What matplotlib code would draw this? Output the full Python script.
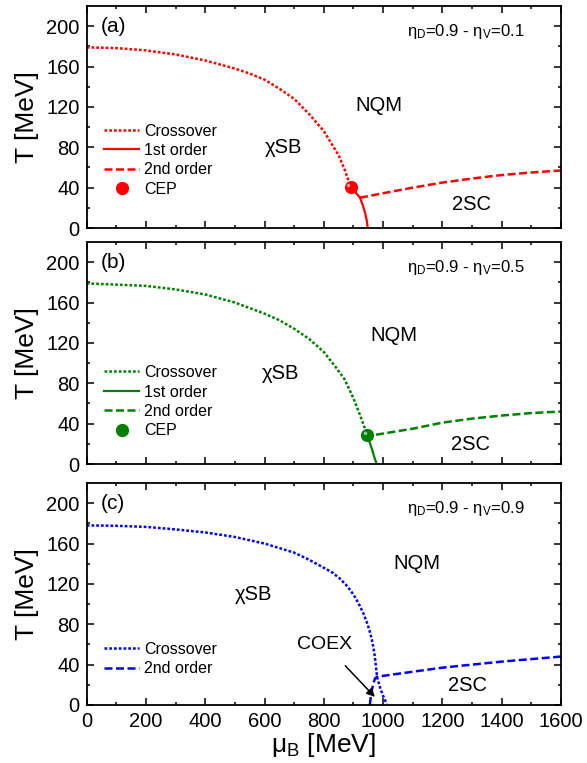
import matplotlib
matplotlib.use('Agg')
import matplotlib.pyplot as plt
from matplotlib import transforms

plt.rcParams['font.family'] = ['Liberation Sans', 'DejaVu Sans']
plt.rcParams['mathtext.fontset'] = 'custom'
plt.rcParams['mathtext.rm'] = 'Liberation Sans'
plt.rcParams['mathtext.it'] = 'Liberation Sans:italic'

# panel (a): eta_D=0.9, eta_V=0.1
a_cross_mu = [0, 100, 200, 300, 400, 500, 550, 600, 650, 700, 750, 800, 850, 870, 890]
a_cross_T = [179, 178.3, 176, 172, 166, 158, 153, 147, 138, 128, 113, 96, 72, 58, 41]
a_first_mu = [890, 905, 922, 932, 939, 945, 948]
a_first_T = [41, 36, 30, 22, 15, 7, 0]
a_second_mu = [922, 1000, 1100, 1200, 1300, 1400, 1500, 1600]
a_second_T = [30, 34.5, 40, 45, 49, 52.5, 55, 57]
a_cep = (890, 41)

# panel (b): eta_D=0.9, eta_V=0.5
b_cross_mu = [0, 200, 300, 400, 500, 600, 650, 700, 750, 800, 840, 870, 900, 920, 935, 946]
b_cross_T = [179, 176.5, 173, 168, 160, 149, 142.5, 134, 124, 111, 96, 84, 65, 50, 38, 29]
b_first_mu = [946, 955, 963, 970, 978]
b_first_T = [29, 21, 14, 7, 0]
b_second_mu = [976, 1100, 1200, 1300, 1400, 1500, 1600]
b_second_T = [29, 35, 41, 45, 48, 50.5, 52]
b_cep = (946, 29)

# panel (c): eta_D=0.9, eta_V=0.9
c_cross_mu = [0, 100, 200, 300, 400, 500, 600, 700, 750, 800, 830, 855, 875, 890, 905, 920,
              933, 945, 953, 961, 967, 972, 975, 978, 980, 990, 1000, 1012]
c_cross_T = [178, 177.6, 176.5, 174, 171, 166.5, 160, 151, 144, 136, 131, 125, 119, 113.5, 107, 99,
             91, 82, 75, 66, 57, 48, 40, 32, 27, 17, 9, 1]
c_second_mu = [955, 960, 966, 972, 979, 1100, 1200, 1282, 1400, 1500, 1600]
c_second_T = [0, 12, 20, 26, 28, 33, 37, 39.5, 43, 45.5, 48]

panels = [
    dict(color='#ff0000', cross=(a_cross_mu, a_cross_T), first=(a_first_mu, a_first_T),
         second=(a_second_mu, a_second_T), cep=a_cep, tag='(a)', ev='0.1',
         nqm=(986, 121), xsb=(665, 80), sc=(1298, 23), leg_y=0.14),
    dict(color='#008000', cross=(b_cross_mu, b_cross_T), first=(b_first_mu, b_first_T),
         second=(b_second_mu, b_second_T), cep=b_cep, tag='(b)', ev='0.5',
         nqm=(1037, 127), xsb=(655, 90), sc=(1295, 19), leg_y=0.115),
    dict(color='#0000ff', cross=(c_cross_mu, c_cross_T), first=None,
         second=(c_second_mu, c_second_T), cep=None, tag='(c)', ev='0.9',
         nqm=(1114, 140), xsb=(561, 110), sc=(1284, 19), leg_y=0.13),
]

fig = plt.figure(figsize=(5.87, 7.63), dpi=100)
H = 763.0
W = 587.0
left, right = 86.7 / W, 561 / W
tops = [6, 242, 483]
h = 222

for i, p in enumerate(panels):
    ax = fig.add_axes([left, 1 - (tops[i] + h) / H, right - left, h / H])
    col = p['color']
    ax.plot(*p['cross'], color=col, lw=1.8, linestyle=(0, (1.1, 0.8)),
            label='Crossover', dash_capstyle='butt')
    if p['first'] is not None:
        ax.plot(*p['first'], color=col, lw=1.6, linestyle='-', label='1st order')
    ax.plot(*p['second'], color=col, lw=1.8, linestyle=(0, (3.2, 1.4)), label='2nd order')
    if p['cep'] is not None:
        ax.plot([p['cep'][0]], [p['cep'][1]], 'o', color=col, ms=8.5, mec=col,
                label='CEP', zorder=5)
        hl = transforms.offset_copy(ax.transData, fig=fig, x=-1.5, y=1.5, units='points')
        ax.plot([p['cep'][0]], [p['cep'][1]], 'o', color='white', alpha=0.6, ms=2.5,
                mec='none', transform=hl, zorder=6)

    ax.set_xlim(0, 1600)
    ax.set_ylim(0, 220)
    ax.set_xticks(range(0, 1601, 200))
    ax.set_xticks(range(100, 1600, 200), minor=True)
    ax.set_yticks(range(0, 201, 40))
    ax.set_yticks(range(20, 220, 40), minor=True)
    ax.tick_params(which='both', direction='in', top=True, right=True, labelsize=14.5, pad=5)
    ax.tick_params(which='major', length=5, width=1.1)
    ax.tick_params(which='minor', length=2.5, width=1.1)
    for s in ax.spines.values():
        s.set_linewidth(1.3)
    if i < 2:
        ax.tick_params(labelbottom=False)
    else:
        ax.set_xlabel('μ$_\\mathregular{B}$ [MeV]', fontsize=19, labelpad=0)
    ax.set_ylabel('T [MeV]', fontsize=19, labelpad=5)

    ax.text(48, 200, p['tag'], fontsize=15, ha='left', va='center')
    ax.text(1478, 195, 'η$_\\mathregular{D}$=0.9 - η$_\\mathregular{V}$=' + p['ev'],
            fontsize=12, ha='right', va='center')
    ax.text(*p['nqm'], 'NQM', fontsize=14.5, ha='center', va='center')
    ax.text(*p['xsb'], 'χSB', fontsize=14.5, ha='center', va='center')
    ax.text(*p['sc'], '2SC', fontsize=14.5, ha='center', va='center')

    ax.legend(loc='lower left', bbox_to_anchor=(0.037, p['leg_y']), frameon=False,
              fontsize=11.5, handlelength=2.2, handletextpad=0.3, labelspacing=0.28,
              borderaxespad=0, borderpad=0)

    if i == 2:
        ax.annotate('COEX', xy=(972, 8), xytext=(804, 60), fontsize=14,
                    ha='center', va='center',
                    arrowprops=dict(arrowstyle='-|>', color='black', lw=1.1,
                                    shrinkA=10, shrinkB=0, mutation_scale=12))

fig.savefig('out.png', dpi=100)
